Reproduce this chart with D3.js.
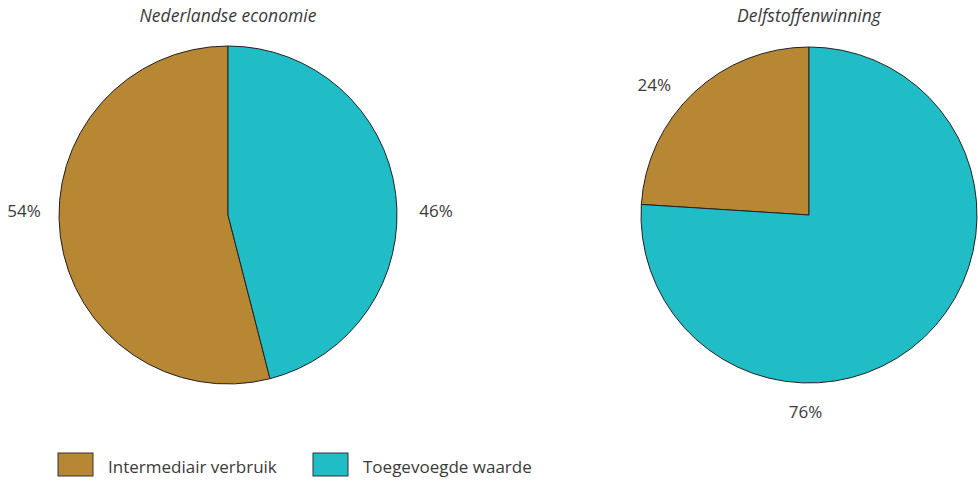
<!DOCTYPE html>
<html>
<head>
<meta charset="utf-8">
<script src="https://cdn.jsdelivr.net/npm/d3@7"></script>
<style>
  body { margin: 0; background: #fff; }
  svg { display: block; font-family: 'Open Sans', 'Noto Sans', sans-serif; }
  .title { font-style: italic; font-size: 17.5px; fill: #3a3a3a; }
  .pct { font-size: 17px; fill: #3a3a3a; }
  .legend text { font-size: 17px; fill: #3a3a3a; }
</style>
</head>
<body>
<div id="chart"></div>
<script>
// data
let categories = ['Intermediair verbruik', 'Toegevoegde waarde']
let pieTitles = ['Nederlandse economie', 'Delfstoffenwinning']
let nederland = [54, 46]
let delfstoffen = [24, 76]

let width = 978
let height = 484
let colors = ['#b88733', '#21bdc6']

// layout per pie: centre, radius and where the percentage labels sit (angle in degrees, clockwise from top)
let pies = [
  { title: pieTitles[0], values: nederland, cx: 228, cy: 215, r: 169, labelAngle: [271, 89], labelR: [204, 208] },
  { title: pieTitles[1], values: delfstoffen, cx: 809, cy: 215, r: 168, labelAngle: [310, 181], labelR: [202, 197] }
]

let svg = d3.select('#chart')
  .append('svg')
  .attr('width', width)
  .attr('height', height)

// teal slice starts at 12 o'clock, then brown, clockwise
let pie = d3.pie()
  .value(function (d) { return d.value })
  .sort(function (a, b) { return b.i - a.i })

pies.forEach(function (p) {
  let arc = d3.arc().innerRadius(0).outerRadius(p.r)
  let g = svg.append('g')
    .attr('transform', 'translate(' + p.cx + ',' + p.cy + ')')

  let rows = p.values.map(function (v, i) { return { i: i, value: v, name: categories[i] } })
  let arcs = pie(rows)

  g.selectAll('path')
    .data(arcs)
    .enter()
    .append('path')
    .attr('d', arc)
    .style('fill', function (d) { return colors[d.data.i] })
    .style('stroke', '#222')
    .style('stroke-width', 1)

  g.selectAll('text.pct')
    .data(arcs)
    .enter()
    .append('text')
    .attr('class', 'pct')
    .attr('text-anchor', 'middle')
    .attr('dy', '0.35em')
    .attr('x', function (d) {
      let a = p.labelAngle[d.data.i] * Math.PI / 180
      return p.labelR[d.data.i] * Math.sin(a)
    })
    .attr('y', function (d) {
      let a = p.labelAngle[d.data.i] * Math.PI / 180
      return -p.labelR[d.data.i] * Math.cos(a)
    })
    .text(function (d) { return d.data.value + '%' })

  svg.append('text')
    .attr('class', 'title')
    .attr('x', p.cx)
    .attr('y', 22)
    .attr('text-anchor', 'middle')
    .text(p.title)
})

// legend
let legend = svg.append('g').attr('class', 'legend')
let legendX = [58, 313]
categories.forEach(function (c, i) {
  let lg = legend.append('g').attr('transform', 'translate(' + legendX[i] + ',453)')
  lg.append('rect')
    .attr('width', 35)
    .attr('height', 23)
    .style('fill', colors[i])
    .style('stroke', '#333')
    .style('stroke-width', 1)
  lg.append('text')
    .attr('x', 50)
    .attr('y', 20)
    .text(c)
})
</script>
</body>
</html>
